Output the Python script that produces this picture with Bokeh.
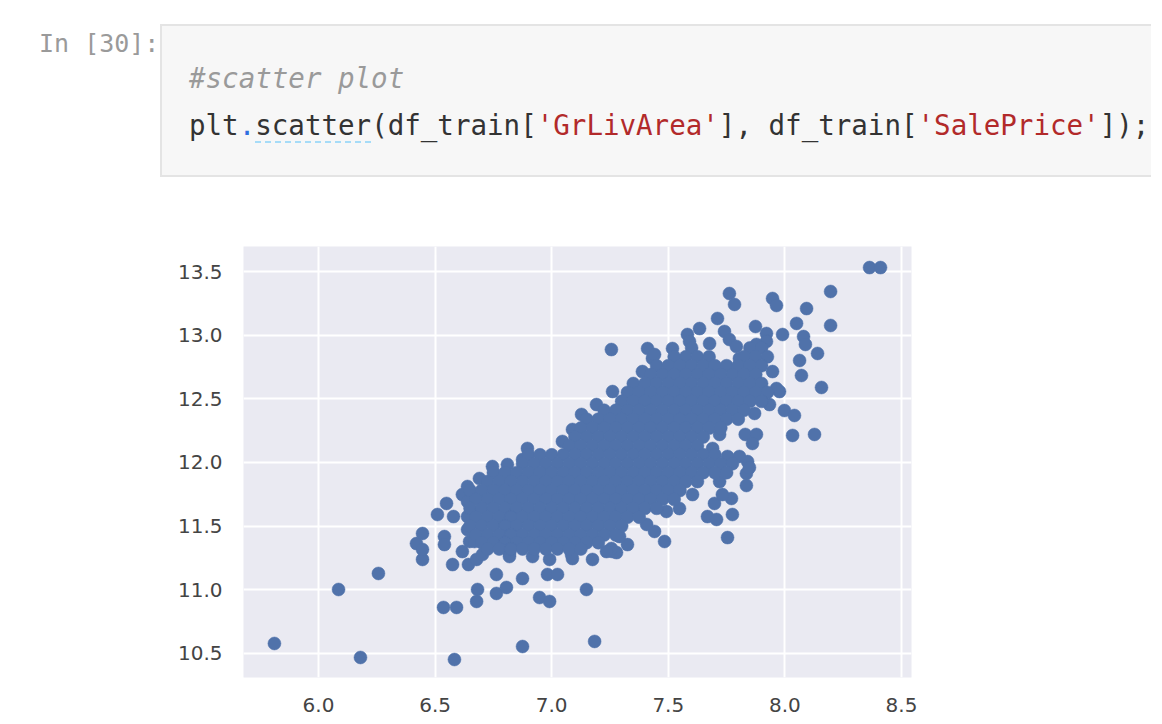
from bokeh.plotting import figure
from bokeh.models import Div, FixedTicker
from bokeh.layouts import column
from bokeh.embed import file_html
from bokeh.resources import INLINE

# ---------------- data ----------------
x_ticks = [6.0, 6.5, 7.0, 7.5, 8.0, 8.5]
x_tick_labels = ["6.0", "6.5", "7.0", "7.5", "8.0", "8.5"]
y_ticks = [10.5, 11.0, 11.5, 12.0, 12.5, 13.0, 13.5]
y_tick_labels = ["10.5", "11.0", "11.5", "12.0", "12.5", "13.0", "13.5"]

# isolated points around the cloud
sparse_x = [5.811, 6.086, 6.180, 6.257, 6.536, 6.592, 6.583, 6.875, 6.875, 6.682, 6.678, 6.763, 6.763, 6.806,
            6.948, 6.991, 7.149, 7.184,
            6.510, 6.549, 6.579, 6.420, 6.446, 6.446, 6.446, 6.540, 6.540, 6.575, 6.643, 6.617, 6.648, 6.678,
            6.982, 7.025, 6.991, 7.085, 7.175, 7.261, 7.278, 7.325, 7.256, 7.484, 7.441, 7.548, 7.668, 7.707,
            7.754, 7.775, 7.698, 7.771, 7.835, 7.835, 7.732, 6.819, 6.733,
            7.256, 7.411, 7.432, 7.582, 7.634, 7.711, 7.741, 7.762, 7.792, 7.762, 7.784, 7.947, 7.964, 7.874,
            7.921, 7.990, 8.050, 8.093, 8.196, 8.196, 8.080, 8.088, 8.140, 8.063, 8.071, 8.157, 7.998, 8.041,
            7.830, 7.878, 7.861, 8.033, 8.127, 8.363, 8.410, 7.964, 7.947, 7.840, 7.805, 7.754]
sparse_y = [10.578, 11.002, 10.468, 11.128, 10.861, 10.861, 10.452, 10.554, 11.088, 11.002, 10.908, 11.120, 10.971, 11.018,
            10.939, 10.908, 11.002, 10.594,
            11.591, 11.678, 11.575, 11.363, 11.442, 11.238, 11.316, 11.418, 11.355, 11.198, 11.198, 11.300, 11.379, 11.238,
            11.120, 11.120, 11.238, 11.277, 11.238, 11.300, 11.292, 11.355, 11.324, 11.379, 11.458, 11.638, 11.575, 11.552,
            11.410, 11.591, 11.678, 11.717, 11.819, 11.913, 11.748, 11.285, 11.340,
            12.887, 12.895, 12.817, 13.005, 13.052, 13.131, 13.029, 12.966, 12.911, 13.327, 13.241, 13.288, 13.233, 13.068,
            13.013, 13.005, 13.092, 13.209, 13.343, 13.076, 12.989, 12.927, 12.856, 12.801, 12.683, 12.589, 12.408, 12.369,
            12.220, 12.220, 12.149, 12.212, 12.220, 13.531, 13.531, 12.581, 12.714, 12.007, 12.047, 12.047]

# points along the rim of the dense cloud
rim_x = [6.896, 6.875, 6.810, 6.746, 6.690, 6.639, 6.617, 7.046, 7.089, 7.128, 7.192, 7.261, 7.389, 7.441,
         7.518, 7.591, 7.677, 7.805, 7.878, 7.921, 7.977, 7.934, 7.870, 7.720, 7.690, 6.703, 6.819, 6.918,
         7.089, 7.235, 7.291, 7.407, 7.492, 7.604, 7.720, 7.848, 6.639, 6.639, 6.639, 6.669]
rim_y = [12.110, 12.023, 11.984, 11.968, 11.874, 11.811, 11.748, 12.165, 12.259, 12.377, 12.455, 12.557, 12.714, 12.848,
         12.895, 12.950, 12.934, 12.817, 12.927, 12.950, 12.557, 12.455, 12.385, 12.220, 12.110, 11.277, 11.261, 11.261,
         11.245, 11.300, 11.418, 11.513, 11.615, 11.748, 11.850, 11.960, 11.693, 11.575, 11.473, 11.379]

# the dense core of the cloud, row by row (SalePrice level -> GrLivArea values)
core_row_y = [12.90, 12.83, 12.76, 12.69, 12.62, 12.55, 12.48, 12.41, 12.34, 12.27, 12.20, 12.13,
              12.06, 11.99, 11.92, 11.85, 11.78, 11.71, 11.64, 11.57, 11.50, 11.43, 11.37, 11.32]
core_row_x = [
    [7.60, 7.85, 7.90],
    [7.525, 7.575, 7.625, 7.675, 7.825, 7.875, 7.925],
    [7.45, 7.50, 7.55, 7.60, 7.65, 7.70, 7.75, 7.80, 7.85, 7.90],
    [7.425, 7.475, 7.525, 7.575, 7.625, 7.675, 7.725, 7.775, 7.825, 7.875],
    [7.35, 7.40, 7.45, 7.50, 7.55, 7.60, 7.65, 7.70, 7.75, 7.80, 7.85, 7.90],
    [7.325, 7.375, 7.425, 7.475, 7.525, 7.575, 7.625, 7.675, 7.725, 7.775, 7.825, 7.875, 7.925],
    [7.30, 7.35, 7.40, 7.45, 7.50, 7.55, 7.60, 7.65, 7.70, 7.75, 7.80, 7.85, 7.90],
    [7.225, 7.275, 7.325, 7.375, 7.425, 7.475, 7.525, 7.575, 7.625, 7.675, 7.725, 7.775, 7.825],
    [7.15, 7.20, 7.25, 7.30, 7.35, 7.40, 7.45, 7.50, 7.55, 7.60, 7.65, 7.70, 7.75, 7.80],
    [7.125, 7.175, 7.225, 7.275, 7.325, 7.375, 7.425, 7.475, 7.525, 7.575, 7.625, 7.675, 7.725],
    [7.10, 7.15, 7.20, 7.25, 7.30, 7.35, 7.40, 7.45, 7.50, 7.55, 7.60, 7.65],
    [7.075, 7.125, 7.175, 7.225, 7.275, 7.325, 7.375, 7.425, 7.475, 7.525, 7.575, 7.625],
    [6.90, 6.95, 7.00, 7.05, 7.10, 7.15, 7.20, 7.25, 7.30, 7.35, 7.40, 7.45, 7.50, 7.55, 7.60, 7.65, 7.70],
    [6.875, 6.925, 6.975, 7.025, 7.075, 7.125, 7.175, 7.225, 7.275, 7.325, 7.375, 7.425, 7.475, 7.525,
     7.575, 7.625, 7.675, 7.725, 7.775],
    [6.75, 6.80, 6.85, 6.90, 6.95, 7.00, 7.05, 7.10, 7.15, 7.20, 7.25, 7.30, 7.35, 7.40, 7.45, 7.50,
     7.55, 7.60, 7.65, 7.70, 7.75],
    [6.725, 6.775, 6.825, 6.875, 6.925, 6.975, 7.025, 7.075, 7.125, 7.175, 7.225, 7.275, 7.325, 7.375,
     7.425, 7.475, 7.525, 7.575, 7.625],
    [6.65, 6.70, 6.75, 6.80, 6.85, 6.90, 6.95, 7.00, 7.05, 7.10, 7.15, 7.20, 7.25, 7.30, 7.35, 7.40,
     7.45, 7.50, 7.55],
    [6.675, 6.725, 6.775, 6.825, 6.875, 6.925, 6.975, 7.025, 7.075, 7.125, 7.175, 7.225, 7.275, 7.325,
     7.375, 7.425, 7.475, 7.525],
    [6.65, 6.70, 6.75, 6.80, 6.85, 6.90, 6.95, 7.00, 7.05, 7.10, 7.15, 7.20, 7.25, 7.30, 7.35, 7.40, 7.45],
    [6.675, 6.725, 6.775, 6.825, 6.875, 6.925, 6.975, 7.025, 7.075, 7.125, 7.175, 7.225, 7.275, 7.325, 7.375],
    [6.65, 6.70, 6.75, 6.80, 6.85, 6.90, 6.95, 7.00, 7.05, 7.10, 7.15, 7.20, 7.25, 7.30],
    [6.675, 6.725, 6.775, 6.825, 6.875, 6.925, 6.975, 7.025, 7.075, 7.125, 7.175, 7.225, 7.275],
    [6.70, 6.75, 6.80, 6.85, 6.90, 6.95, 7.00, 7.05, 7.10, 7.15, 7.20],
    [6.725, 6.775, 6.825, 6.875, 6.925, 6.975, 7.025, 7.075, 7.125],
]

gr_liv_area = list(sparse_x) + list(rim_x)
sale_price = list(sparse_y) + list(rim_y)
for yv, xs in zip(core_row_y, core_row_x):
    gr_liv_area += xs
    sale_price += [yv] * len(xs)

# ---------------- notebook cell (text) ----------------
mono = "'DejaVu Sans Mono', 'Liberation Mono', monospace"
cell_html = f"""
<div style="position:relative;width:1146px;height:191px;overflow:hidden;background:#ffffff;">
  <div style="position:absolute;left:34px;top:24px;font-family:{mono};font-size:25px;line-height:30px;color:#9a9a9a;white-space:pre;">In [30]:</div>
  <div style="position:absolute;left:155px;top:19px;width:1020px;height:153px;background:#f7f7f7;border:2px solid #e4e4e4;box-sizing:border-box;"></div>
  <div style="position:absolute;left:184px;top:57px;font-family:{mono};font-size:27.5px;line-height:32px;color:#9a9a9a;font-style:italic;white-space:pre;">#scatter plot</div>
  <div style="position:absolute;left:184px;top:104px;font-family:{mono};font-size:27.5px;line-height:32px;color:#333333;white-space:pre;">plt<span style="color:#2f6fe0;">.</span><span style="border-bottom:2px dashed #a6dcf8;">scatter</span>(df_train[<span style="color:#b22a2a;">'GrLivArea'</span>], df_train[<span style="color:#b22a2a;">'SalePrice'</span>]);</div>
</div>
"""
cell = Div(text=cell_html, width=1146, height=191)

# ---------------- scatter plot ----------------
p = figure(width=931, height=516,
           x_range=(5.6784, 8.5429), y_range=(10.3107, 13.6964),
           output_backend="svg", toolbar_location=None,
           min_border_left=243, min_border_right=20,
           min_border_top=45, min_border_bottom=40)

p.background_fill_color = "#eaeaf2"
p.border_fill_color = "#ffffff"
p.outline_line_color = None

for ax in (p.xaxis[0], p.yaxis[0]):
    ax.axis_line_color = None
    ax.major_tick_line_color = None
    ax.minor_tick_line_color = None
    ax.major_label_text_font = "DejaVu Sans"
    ax.major_label_text_font_size = "20px"
    ax.major_label_text_color = "#444444"

p.xaxis[0].ticker = FixedTicker(ticks=x_ticks)
p.xaxis[0].major_label_overrides = dict(zip(x_ticks, x_tick_labels))
p.xaxis[0].major_label_standoff = 14
p.yaxis[0].ticker = FixedTicker(ticks=y_ticks)
p.yaxis[0].major_label_overrides = dict(zip(y_ticks, y_tick_labels))
p.yaxis[0].major_label_standoff = 15

p.xgrid[0].ticker = FixedTicker(ticks=x_ticks)
p.ygrid[0].ticker = FixedTicker(ticks=y_ticks)
for g in (p.xgrid[0], p.ygrid[0]):
    g.grid_line_color = "#ffffff"
    g.grid_line_width = 2

p.scatter(gr_liv_area, sale_price, size=13, marker="circle",
          fill_color="#5072aa", line_color="#5072aa", line_width=0.5)

layout = column(cell, p)
open("out.html", "w").write(file_html(layout, INLINE))
